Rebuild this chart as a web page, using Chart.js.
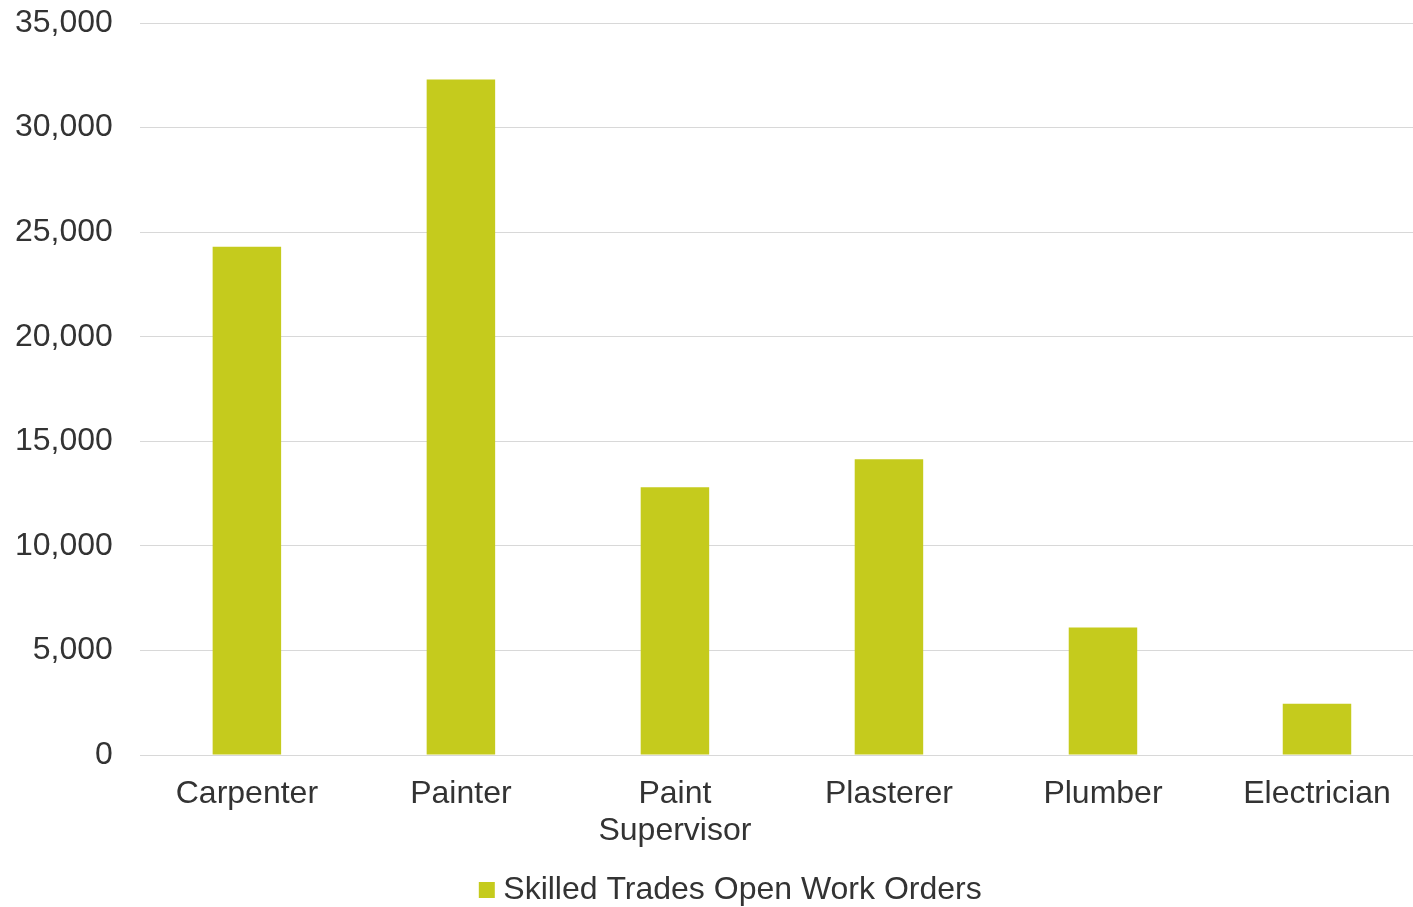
<!DOCTYPE html>
<html>
<head>
<meta charset="utf-8">
<script src="https://cdn.jsdelivr.net/npm/chart.js@4"></script>
<style>
html,body{margin:0;padding:0;background:#fff;overflow:hidden;}
#wrap{position:relative;width:1424px;height:907px;}
</style>
</head>
<body>
<div id="wrap"><canvas id="c"></canvas></div>
<script>
const categories = ['Carpenter', 'Painter', ['Paint', 'Supervisor'], 'Plasterer', 'Plumber', 'Electrician'];
const seriesName = 'Skilled Trades Open Work Orders';
const openWorkOrders = [24300, 32300, 12800, 14150, 6100, 2450];
const yTicks = [0, 5000, 10000, 15000, 20000, 25000, 30000, 35000];

const barColor = '#c5cb1d';
const textColor = '#333333';
const font = {family: '"Liberation Sans", Arial, sans-serif', size: 32, lineHeight: 1.17};

const legendShift = {
  id: 'legendShift',
  afterLayout(chart) {
    const lg = chart.legend;
    if (lg) { lg.left += 28; lg.right += 28; }
  }
};

new Chart(document.getElementById('c'), {
  type: 'bar',
  data: {
    labels: categories,
    datasets: [{
      label: seriesName,
      data: openWorkOrders,
      backgroundColor: barColor,
      borderWidth: 0,
      categoryPercentage: 1,
      barPercentage: 0.32
    }]
  },
  plugins: [legendShift],
  options: {
    responsive: true,
    maintainAspectRatio: false,
    animation: false,
    layout: {padding: {top: 23, left: -12, right: 0, bottom: -9}},
    plugins: {
      legend: {
        position: 'bottom',
        labels: {
          color: textColor,
          font: font,
          boxWidth: 1,
          boxHeight: 1,
          padding: 4,
          generateLabels: chart => chart.data.datasets.map((ds, i) => ({
            text: ds.label,
            fillStyle: ds.backgroundColor,
            strokeStyle: ds.backgroundColor,
            lineWidth: 15,
            lineCap: 'butt',
            lineJoin: 'miter',
            fontColor: textColor,
            hidden: false,
            datasetIndex: i
          }))
        }
      },
      tooltip: {enabled: false}
    },
    scales: {
      x: {
        grid: {display: false, drawTicks: false},
        border: {display: false},
        ticks: {color: textColor, font: font, maxRotation: 0, autoSkip: false, padding: 20}
      },
      y: {
        min: 0,
        max: 35000,
        afterBuildTicks: axis => { axis.ticks = yTicks.map(v => ({value: v})); },
        afterFit: axis => { axis.paddingTop = 0; },
        grid: {color: '#d8d8d8', lineWidth: 1, drawTicks: false},
        border: {display: false},
        ticks: {
          color: textColor,
          font: font,
          padding: 27,
          callback: v => v.toLocaleString('en-US')
        }
      }
    }
  }
});
</script>
</body>
</html>
